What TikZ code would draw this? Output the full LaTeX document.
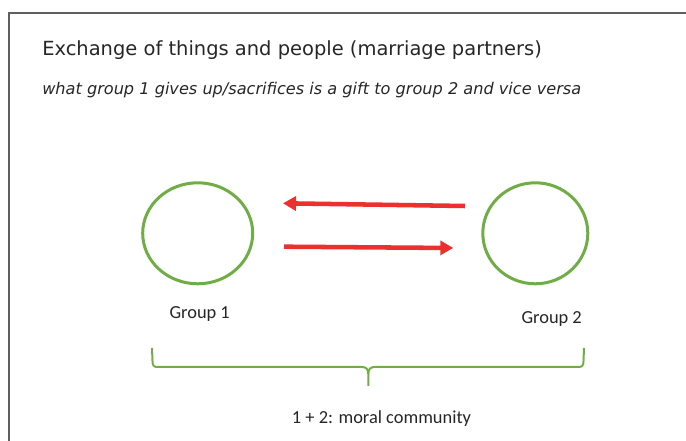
\documentclass[tikz,border=0pt]{standalone}
\usepackage{fontspec}
\setmainfont{Carlito}
\newfontfamily\verdfont{DejaVu Sans}
\usetikzlibrary{arrows.meta,shapes.geometric}
\definecolor{framegray}{HTML}{5F5F5F}
\definecolor{groupgreen}{HTML}{70AD47}
\definecolor{giftred}{HTML}{EC3030}
\tikzset{
  group/.style={ellipse,draw=groupgreen,line width=2.25pt,minimum width=82.5pt,minimum height=75.75pt,inner sep=0pt},
  gift/.style={draw=giftred,line width=3.4pt,-{Triangle[length=9.75pt,width=10.5pt]}},
  label/.style={font=\fontsize{13.8pt}{16pt}\selectfont,text=black!85,anchor=base,inner sep=0pt},
  brace/.style={draw=groupgreen,line width=1.5pt}
}
\begin{document}
\begin{tikzpicture}[x=0.75pt,y=-0.75pt]
  \useasboundingbox (0,0) rectangle (686,441);
  \draw[framegray,line width=1.5pt] (8.5,441) -- (8.5,13) -- (686,13);
  \node[anchor=base west,inner sep=0pt,text=black!85,font=\verdfont\fontsize{14.6pt}{17pt}\selectfont] (title) at (42,56)
    {Exchange of things and people (marriage partners)};
  \node[anchor=base west,inner sep=0pt,text=black!85,font=\verdfont\itshape\fontsize{12.1pt}{14pt}\selectfont] (subtitle) at (42,94.3)
    {what group 1 gives up/sacrifices is a gift to group 2 and vice versa};
  \node[group] (g1) at (197.7,233.3) {};
  \node[group,minimum width=78.75pt] (g2) at (535.3,233.3) {};
  \coordinate (back start) at (465,206);
  \coordinate (back end) at (283,203.3);
  \coordinate (forth start) at (284,246.7);
  \coordinate (forth end) at (453.3,248);
  \draw[gift] (back start) -- (back end);
  \draw[gift] (forth start) -- (forth end);
  \node[label] (l1) at (199.7,318.3) {Group 1};
  \node[label] (l2) at (551.7,323.3) {Group 2};
  % brace under both groups
  \coordinate (brace tip) at (368.3,386);
  \draw[brace] (152,348) -- (152.5,361) .. controls (152.5,366) and (154,367) .. (158,367)
    -- (362,367) .. controls (366,367) and (368.3,369) .. (368.3,374) -- (brace tip);
  \draw[brace] (584,348) -- (583.5,361) .. controls (583.5,366) and (582,367) .. (578,367)
    -- (374.6,367) .. controls (370.6,367) and (368.3,369) .. (368.3,374);
  \node[label] (community) at (381.5,424) {1 + 2: moral community};
\end{tikzpicture}
\end{document}
